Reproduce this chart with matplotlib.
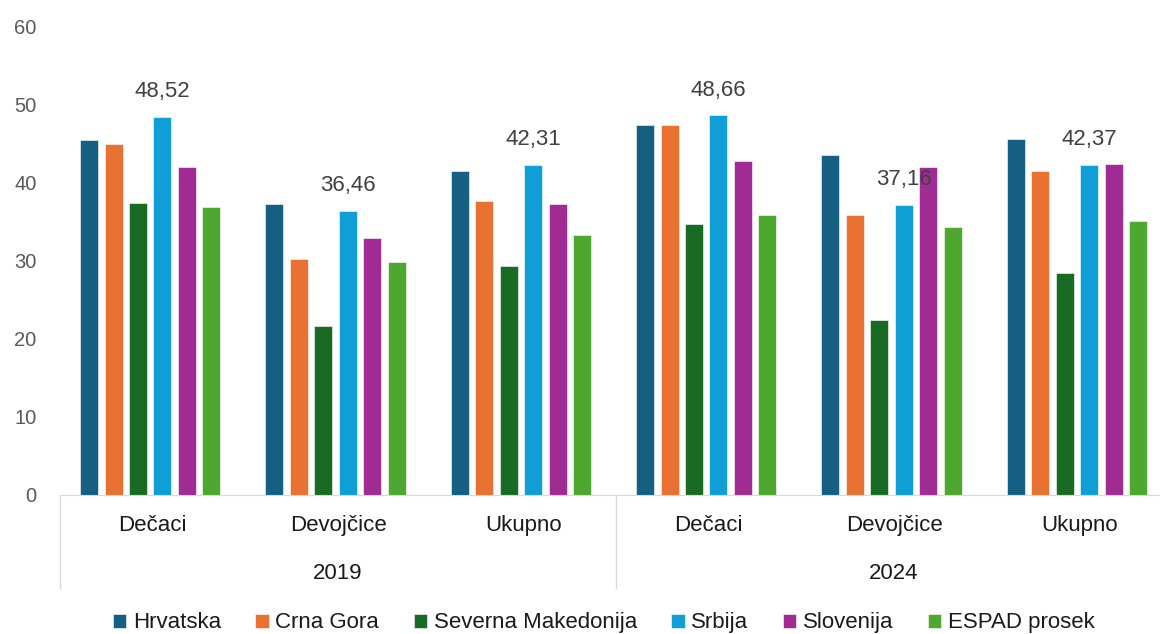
import numpy as np
import matplotlib.pyplot as plt
from matplotlib.transforms import blended_transform_factory
from matplotlib.lines import Line2D

plt.rcParams['font.family'] = ['Liberation Sans', 'DejaVu Sans']

years = ['2019', '2024']
groups = ['Dečaci', 'Devojčice', 'Ukupno']
countries = ['Hrvatska', 'Crna Gora', 'Severna Makedonija', 'Srbija', 'Slovenija', 'ESPAD prosek']
colors = ['#156082', '#E97132', '#196B24', '#0F9ED5', '#A02B93', '#4EA72E']

# values per category: 2019 Dečaci, Devojčice, Ukupno, 2024 Dečaci, Devojčice, Ukupno
hrvatska = [45.5, 37.3, 41.5, 47.4, 43.6, 45.6]
crna_gora = [45.0, 30.3, 37.7, 47.4, 35.9, 41.6]
s_makedonija = [37.4, 21.7, 29.4, 34.7, 22.4, 28.5]
srbija = [48.52, 36.46, 42.31, 48.66, 37.16, 42.37]
slovenija = [42.1, 32.9, 37.3, 42.8, 42.0, 42.4]
espad = [36.9, 29.9, 33.3, 35.9, 34.4, 35.1]
series = [hrvatska, crna_gora, s_makedonija, srbija, slovenija, espad]

W, H = 1160, 634
fig = plt.figure(figsize=(W / 100, H / 100), dpi=100)
# plot area runs slightly past the right edge of the figure
ax = fig.add_axes([60 / W, 1 - 495 / H, 1112 / W, 468 / H])

x = np.arange(len(hrvatska))
step = 0.132
width = 0.097
for i, (vals, c, name) in enumerate(zip(series, colors, countries)):
    pos = x + (i - 2.6) * step
    ax.bar(pos, vals, width=width, color=c, label=name, edgecolor='white', linewidth=0.4)
    if name == 'Srbija':
        for px, v in zip(pos, vals):
            ax.text(px, v + 3.25, f'{v:.2f}'.replace('.', ','), ha='center', va='center',
                    fontsize=16, color='#404040')

ax.set_xlim(-0.5, len(x) - 0.5)
ax.set_ylim(0, 60)
ax.set_yticks(range(0, 61, 10))
ax.tick_params(axis='y', length=0, labelsize=14.5, labelcolor='#595959', pad=17)
ax.set_xticks([])
for s in ['top', 'right', 'left']:
    ax.spines[s].set_visible(False)
ax.spines['bottom'].set_color('#D9D9D9')

# two-level category axis
tr = blended_transform_factory(ax.transData, ax.transAxes)
for xi in x:
    ax.text(xi, -0.066, groups[xi % 3], transform=tr, ha='center', va='center',
            fontsize=16, color='#1a1a1a')
for k, yr in enumerate(years):
    ax.text(3 * k + 1, -0.167, yr, transform=tr, ha='center', va='center',
            fontsize=16, color='#1a1a1a')
for xs in [-0.5, 2.5, 5.5]:
    ax.add_line(Line2D([xs, xs], [0, -0.199], transform=tr, color='#D9D9D9',
                       linewidth=1, clip_on=False))

ax.legend(loc='center', bbox_to_anchor=(0.489, -0.2735), ncol=6, frameon=False,
          fontsize=16, handlelength=0.6, handleheight=0.6, handletextpad=0.3,
          columnspacing=1.55, labelcolor='#1a1a1a', borderaxespad=0)

fig.savefig('out.png', dpi=100)
